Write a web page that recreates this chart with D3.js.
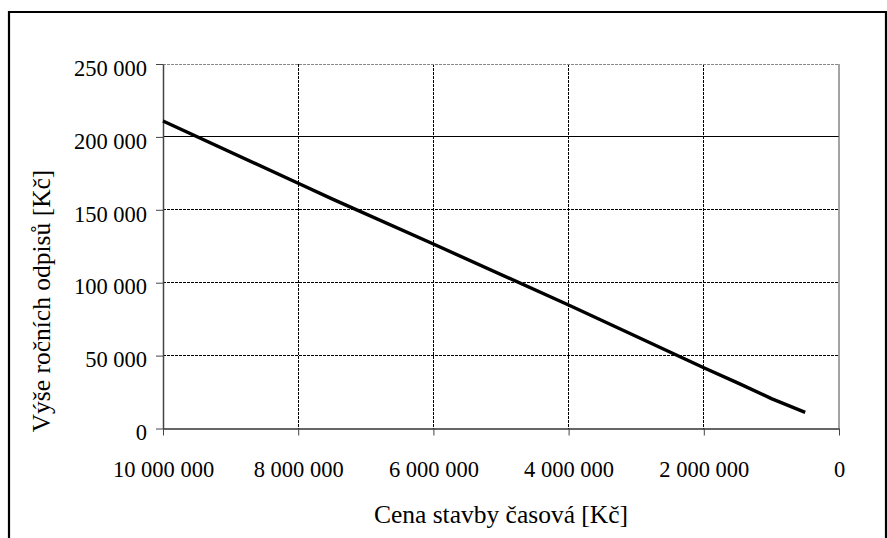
<!DOCTYPE html>
<html><head><meta charset="utf-8">
<script src="https://cdn.jsdelivr.net/npm/d3@7"></script>
<style>html,body{margin:0;padding:0;background:#fff;}svg{display:block;}</style>
</head><body>
<script>
// Data
const cena = [10000000, 8000000, 7500000, 6000000, 4000000, 2000000, 1500000, 1000000, 500000];
const odpisy = [210900, 168200, 157500, 126500, 84700, 41700, 31300, 20500, 11100];
const xTicks = [10000000, 8000000, 6000000, 4000000, 2000000, 0];
const yTicks = [0, 50000, 100000, 150000, 200000, 250000];
const xTitle = "Cena stavby časová [Kč]";
const yTitle = "Výše ročních odpisů [Kč]";

const W = 887, H = 538;
const m = {left: 163, right: 839, top: 64, bottom: 428.5};
const FONT = '"Liberation Serif", "Times New Roman", serif';
const svg = d3.select("body").append("svg").attr("width", W).attr("height", H);

// outer frame
svg.append("path").attr("d", `M9,${H+5} V12 H886 V${H+5}`)
  .attr("fill", "none").attr("stroke", "#000").attr("stroke-width", 2.2);

const x = d3.scaleLinear().domain([10000000, 0]).range([m.left, m.right]);
const y = d3.scaleLinear().domain([0, 250000]).range([m.bottom, m.top]);
const fmt = v => d3.format(",")(v).replace(/,/g, " ");

// grid
const g = svg.append("g").attr("shape-rendering", "crispEdges");
g.selectAll(".gx").data(xTicks.filter(d => d !== 0 && d !== 10000000)).join("line")
  .attr("x1", d => x(d)).attr("x2", d => x(d)).attr("y1", m.top).attr("y2", m.bottom)
  .attr("stroke", "#000").attr("stroke-width", 1).attr("stroke-dasharray", "3,1");
g.selectAll(".gy").data(yTicks.filter(d => d !== 0)).join("line")
  .attr("x1", m.left).attr("x2", m.right).attr("y1", d => y(d)).attr("y2", d => y(d))
  .attr("stroke", d => d === 250000 ? "#888" : "#000").attr("stroke-width", 1)
  .attr("stroke-dasharray", d => d === 200000 ? null : "3,1");

// right border of plot
svg.append("line").attr("x1", m.right).attr("x2", m.right).attr("y1", m.top).attr("y2", m.bottom)
  .attr("stroke", "#666").attr("stroke-width", 1.2);

// axes
const yAxis = svg.append("g").attr("transform", `translate(${m.left},0)`)
  .call(d3.axisLeft(y).tickValues(yTicks).tickFormat(fmt).tickSizeInner(7).tickSizeOuter(0).tickPadding(9));
yAxis.select(".domain").attr("stroke", "#444").attr("stroke-width", 1.5);
yAxis.selectAll(".tick line").attr("stroke", "#444");
yAxis.selectAll("text").style("font-family", FONT).style("font-size", "22.5px").attr("fill", "#000").attr("dy", "0.5em");

const xAxis = svg.append("g").attr("transform", `translate(0,${m.bottom})`)
  .call(d3.axisBottom(x).tickValues(xTicks).tickFormat(fmt).tickSizeInner(7).tickSizeOuter(0).tickPadding(26));
xAxis.select(".domain").attr("stroke", "#333").attr("stroke-width", 1.5);
xAxis.selectAll(".tick line").attr("stroke", "#444");
xAxis.selectAll("text").style("font-family", FONT).style("font-size", "22.5px").attr("fill", "#000");

// line
svg.append("path").datum(cena.map((c, i) => [c, odpisy[i]]))
  .attr("fill", "none").attr("stroke", "#000").attr("stroke-width", 3.4)
  .attr("stroke-linejoin", "round")
  .attr("d", d3.line().x(d => x(d[0])).y(d => y(d[1])));

// titles
svg.append("text").attr("x", 501).attr("y", 523).attr("text-anchor", "middle")
  .style("font-family", FONT).style("font-size", "25.5px").text(xTitle);
svg.append("text").attr("transform", "translate(50,301) rotate(-90)").attr("text-anchor", "middle")
  .style("font-family", FONT).style("font-size", "25.5px").text(yTitle);
</script>
</body></html>
